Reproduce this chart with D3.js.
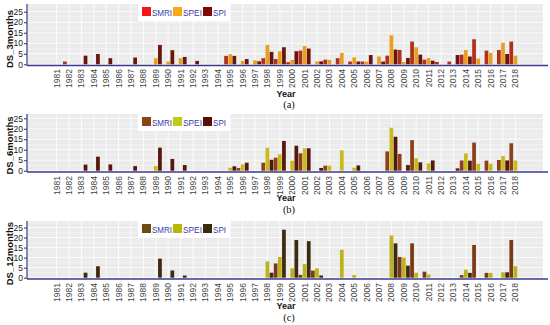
<!DOCTYPE html>
<html><head><meta charset="utf-8">
<script src="https://cdn.jsdelivr.net/npm/d3@7"></script>
<style>body{margin:0;background:#fff}svg{display:block}</style>
</head><body>
<script>
const years = d3.range(1981, 2019).map(String);
const seriesNames = ["SMRI", "SPEI", "SPI"];
const yTicks = [0, 5, 10, 15, 20, 25];

// Panel (a) DS_3months
const a_SMRI = [0,1.3,0,0,0,0,0,0,0,0,0,0,0,0,4.0,0,0,2.9,2.5,1.0,6.5,0,2.2,2.9,1.3,1.3,0,4.1,6.8,10.8,2.2,1.1,1.3,4.6,11.9,6.5,6.8,10.8];
const a_SPEI = [0,0,0,0,0,0,0,0,2.9,1.3,2.9,0,0,0,4.8,1.6,1.9,9.2,6.2,2.1,8.7,1.3,2.1,5.4,3.3,1.3,3.7,13.8,1.1,8.1,3.0,0,0,6.8,2.7,5.4,10.2,4.1];
const a_SPI  = [0,0,4.1,4.9,2.9,0,3.2,0,9.2,6.7,3.5,1.6,0,0,4.0,2.5,1.4,5.9,8.1,6.2,7.5,1.4,0,0,1.3,4.4,1.3,7.0,3.0,4.6,1.7,0,4.4,3.7,0,0,4.9,0];
// Panel (b) DS_6months
const b_SMRI = [0,0,0,0,0,0,0,0,0,0,0,0,0,0,0,1.3,0,3.8,6.2,0,8.3,0,2.4,0,0,0,0,9.2,8.0,14.6,0,0,0,4.9,13.4,4.8,5.1,13.1];
const b_SPEI = [0,0,0,0,0,0,0,0,2.2,0,0,0,0,0,1.4,3.0,0,11.0,7.8,4.8,10.7,0,2.4,9.7,1.4,0,0,20.5,0,5.9,3.5,0,0,8.3,3.3,3.3,7.0,4.9];
const b_SPI  = [0,0,2.9,6.7,3.0,0,2.2,0,11.0,5.6,2.7,0,0,0,2.1,3.8,0,5.2,14.2,11.9,10.7,1.3,0,0,2.5,0,0,16.2,2.7,4.0,4.9,0,1.1,4.8,0,0,4.9,0];
// Panel (c) DS_12months
const c_SMRI = [0,0,0,0,0,0,0,0,0,0,0,0,0,0,0,0,0,0,7.1,0,1.4,3.5,0,0,0,0,0,0,10.3,17.1,3.0,0,0,1.3,16.3,2.4,0,18.8];
const c_SPEI = [0,0,0,0,0,0,0,0,0,0,0,0,0,0,0,0,0,8.1,10.3,4.7,6.8,4.7,0,13.9,1.3,0,0,21.0,10.0,2.5,1.6,0,0,4.0,0,2.4,2.7,5.7];
const c_SPI  = [0,0,2.5,5.7,0,0,0,0,9.5,3.6,1.1,0,0,0,0,0,0,2.5,23.9,18.8,18.2,1.1,0,0,0,0,0,17.1,6.0,0,0,0,0,2.4,0,0,2.7,0];

const panels = [
  {label:"DS_3months", tag:"(a)", data:[a_SMRI,a_SPEI,a_SPI], colors:["#b0301c","#e8a020","#6a140c"], legendColors:["#f01818","#f8a818","#800808"],
   top:4, y0:64.3, y25:11.7, axisY:65.5, labTop:69, yearY:96.5, tagY:108},
  {label:"DS_6months", tag:"(b)", data:[b_SMRI,b_SPEI,b_SPI], colors:["#8e4016","#c8bc1c","#55180a"], legendColors:["#8b4513","#c0cc10","#5a0f06"],
   top:114, y0:170.7, y25:118.3, axisY:172, labTop:176, yearY:201, tagY:212.5},
  {label:"DS_12months", tag:"(c)", data:[c_SMRI,c_SPEI,c_SPI], colors:["#7a3a14","#bdb21c","#3e2a10"], legendColors:["#6b4c12","#b8b800","#3b2a10"],
   top:221, y0:277.7, y25:227.5, axisY:279, labTop:283, yearY:308.5, tagY:320.5}
];

const W = 550, H = 325;
const FONT = "'Liberation Sans', Arial, sans-serif";
const svg = d3.select("body").append("svg").attr("width", W).attr("height", H)
  .attr("font-family", FONT);

const plotL = 27, plotR = 543, axisR = 548;
const x = d3.scalePoint().domain(years).range([56.6, 515.4]);
const xs = d3.scaleBand().domain(seriesNames).range([-6, 6]).paddingInner(0.1);

panels.forEach(p => {
  const g = svg.append("g");
  const y = d3.scaleLinear().domain([0, 25]).range([p.y0, p.y25]);
  // background
  g.append("rect").attr("x", plotL).attr("y", p.top).attr("width", plotR - plotL)
    .attr("height", p.axisY - p.top).attr("fill", "#ebebeb");
  // grid
  const minor = d3.range(2.5, 28, 5).filter(v => y(v) > p.top);
  g.selectAll(".gmin").data(minor).join("line")
    .attr("x1", plotL).attr("x2", plotR).attr("y1", d => y(d)).attr("y2", d => y(d))
    .attr("stroke", "#f6f6f6").attr("stroke-width", 0.5);
  g.selectAll(".gmaj").data(yTicks).join("line")
    .attr("x1", plotL).attr("x2", plotR).attr("y1", d => y(d)).attr("y2", d => y(d))
    .attr("stroke", "#fff").attr("stroke-width", 0.8);
  g.selectAll(".gv").data(years).join("line")
    .attr("x1", d => x(d)).attr("x2", d => x(d)).attr("y1", p.top).attr("y2", p.axisY)
    .attr("stroke", "#fff").attr("stroke-width", 0.8);

  // bars
  p.data.forEach((arr, si) => {
    g.append("g").selectAll("rect").data(arr.map((v, i) => ({year: years[i], v})).filter(d => d.v > 0))
      .join("rect")
      .attr("x", d => x(d.year) + xs(seriesNames[si]))
      .attr("width", xs.bandwidth())
      .attr("y", d => y(d.v))
      .attr("height", d => y(0) - y(d.v))
      .attr("fill", p.colors[si]);
  });

  // y axis
  const ya = d3.axisLeft(y).tickValues(yTicks).tickSize(3).tickPadding(1);
  const yg = g.append("g").attr("transform", `translate(${plotL},0)`).call(ya);
  yg.attr("font-family", FONT).attr("font-size", 8.5);
  yg.select(".domain").remove();
  yg.selectAll("text").attr("fill", "#222");
  yg.selectAll("line").attr("stroke", "#333");
  g.append("line").attr("x1", plotL).attr("x2", plotL).attr("y1", p.top).attr("y2", p.axisY)
    .attr("stroke", "#3b3b8c").attr("stroke-width", 1.2);
  // x axis line
  g.append("line").attr("x1", plotL).attr("x2", axisR).attr("y1", p.axisY).attr("y2", p.axisY)
    .attr("stroke", "#3b3b8c").attr("stroke-width", 1.5);
  // x labels
  g.selectAll(".xl").data(years).join("text")
    .attr("transform", d => `translate(${x(d)},${p.labTop}) rotate(-90)`)
    .attr("text-anchor", "end").attr("dy", "0.35em")
    .attr("font-size", 8.5).attr("fill", "#444").text(d => d);
  // axis titles
  g.append("text").attr("x", 286).attr("y", p.yearY).attr("text-anchor", "middle")
    .attr("font-size", 9).attr("font-weight", "bold").attr("fill", "#111").text("Year");
  g.append("text").attr("x", 289).attr("y", p.tagY).attr("text-anchor", "middle")
    .attr("font-size", 10.5).attr("font-family", "'Liberation Serif', 'Times New Roman', serif")
    .attr("fill", "#111").text(p.tag);
  g.append("text").attr("transform", `translate(12.5,${(p.y0 + p.y25) / 2 + 1}) rotate(-90)`)
    .attr("text-anchor", "middle").attr("font-size", 9.5).attr("font-weight", "bold")
    .attr("fill", "#111").text(p.label);

  // legend
  const lg = g.append("g").attr("transform", `translate(138,${p.top})`);
  lg.append("rect").attr("x", 0).attr("y", 0).attr("width", 92).attr("height", 17).attr("fill", "#fff");
  const offs = [4, 35, 65];
  const lens = [20, 19, 13];
  seriesNames.forEach((s, i) => {
    lg.append("rect").attr("x", offs[i]).attr("y", 3).attr("width", 9).attr("height", 9).attr("fill", p.legendColors[i]);
    lg.append("text").attr("x", offs[i] + 10).attr("y", 11.5).attr("font-size", 8.5)
      .attr("textLength", lens[i]).attr("lengthAdjust", "spacingAndGlyphs")
      .attr("fill", "#3a3aa6").text(s);
  });
});
</script>
</body></html>
